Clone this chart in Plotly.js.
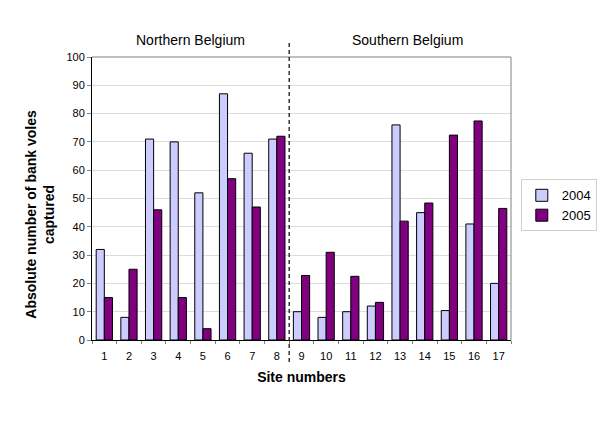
<!DOCTYPE html>
<html>
<head>
<meta charset="utf-8">
<script src="https://cdn.plot.ly/plotly-3.0.1.min.js"></script>
<style>
  html, body { margin: 0; padding: 0; background: #fff; }
  #chart { width: 600px; height: 424px; }
</style>
</head>
<body>
<div id="chart"></div>
<script>
// Site numbers (1-8 north, 9-17 south)
const sites = ['1', '2', '3', '4', '5', '6', '7', '8', '9', '10', '11', '12', '13', '14', '15', '16', '17'];
const voles2004 = [32, 8, 71, 70, 52, 87, 66, 71, 10, 8, 10, 12, 76, 45, 10.4, 41, 20];
const voles2005 = [15, 25, 46, 15, 4, 57, 47, 72, 22.8, 31, 22.5, 13.3, 42, 48.4, 72.4, 77.4, 46.5];
const regionLabels = ['Northern Belgium', 'Southern Belgium'];
const yTicks = [0, 10, 20, 30, 40, 50, 60, 70, 80, 90, 100];

const font = 'Liberation Sans, Arial, sans-serif';

const traces = [
  {
    x: sites,
    y: voles2004,
    type: 'bar',
    name: '2004',
    marker: { color: '#ccccff', line: { color: '#000000', width: 1 } }
  },
  {
    x: sites,
    y: voles2005,
    type: 'bar',
    name: '2005',
    marker: { color: '#800080', line: { color: '#000000', width: 1 } }
  }
];

const layout = {
  width: 600,
  height: 424,
  margin: { l: 92, r: 89, t: 57, b: 84, autoexpand: false },
  paper_bgcolor: '#ffffff',
  plot_bgcolor: '#ffffff',
  font: { family: font, color: '#000000', size: 11 },
  barmode: 'group',
  bargap: 0.34,
  bargroupgap: 0,
  showlegend: true,
  legend: {
    xref: 'container',
    yref: 'container',
    x: 0.868,
    y: 0.577,
    xanchor: 'left',
    yanchor: 'top',
    bordercolor: '#d0d0d0',
    borderwidth: 1,
    itemwidth: 30,
    font: { size: 13, family: font },
    tracegroupgap: 0
  },
  xaxis: {
    type: 'category',
    showline: true,
    linecolor: '#000000',
    linewidth: 1,
    ticks: 'outside',
    tickson: 'boundaries',
    ticklen: 3,
    tickcolor: '#808080',
    ticklabelstandoff: 6,
    showgrid: false,
    tickfont: { size: 11 },
    title: { text: '<b>Site numbers</b>', font: { size: 14, family: font }, standoff: 10 }
  },
  yaxis: {
    range: [0, 100],
    tickvals: yTicks,
    showline: true,
    linecolor: '#000000',
    linewidth: 1,
    ticks: 'outside',
    ticklen: 4,
    tickcolor: '#808080',
    showgrid: true,
    gridcolor: '#dcdcdc',
    zeroline: false,
    tickfont: { size: 11 }
  },
  shapes: [
    // top and right frame in gray
    { type: 'line', xref: 'paper', yref: 'paper', x0: 0, x1: 1, y0: 1, y1: 1, line: { color: '#808080', width: 1 } },
    { type: 'line', xref: 'paper', yref: 'paper', x0: 1, x1: 1, y0: 0, y1: 1, line: { color: '#808080', width: 1 } },
    {
      type: 'line',
      xref: 'x',
      yref: 'paper',
      x0: 7.5, x1: 7.5,
      y0: -0.078, y1: 1.06,
      line: { color: '#000000', width: 1.2, dash: '4px,3px' }
    }
  ],
  annotations: [
    {
      text: regionLabels[0],
      xref: 'x', yref: 'paper',
      x: 3.5, y: 1.06,
      yanchor: 'middle',
      showarrow: false,
      font: { size: 14, family: font }
    },
    {
      text: regionLabels[1],
      xref: 'x', yref: 'paper',
      x: 12.3, y: 1.06,
      yanchor: 'middle',
      showarrow: false,
      font: { size: 14, family: font }
    },
    {
      text: '<b>Absolute number of bank voles<br>captured</b>',
      xref: 'paper', yref: 'paper',
      x: -0.125, y: 0.445,
      xanchor: 'center', yanchor: 'middle',
      textangle: -90,
      showarrow: false,
      font: { size: 14, family: font }
    }
  ]
};

Plotly.newPlot('chart', traces, layout, { displayModeBar: false, staticPlot: true });
</script>
</body>
</html>
